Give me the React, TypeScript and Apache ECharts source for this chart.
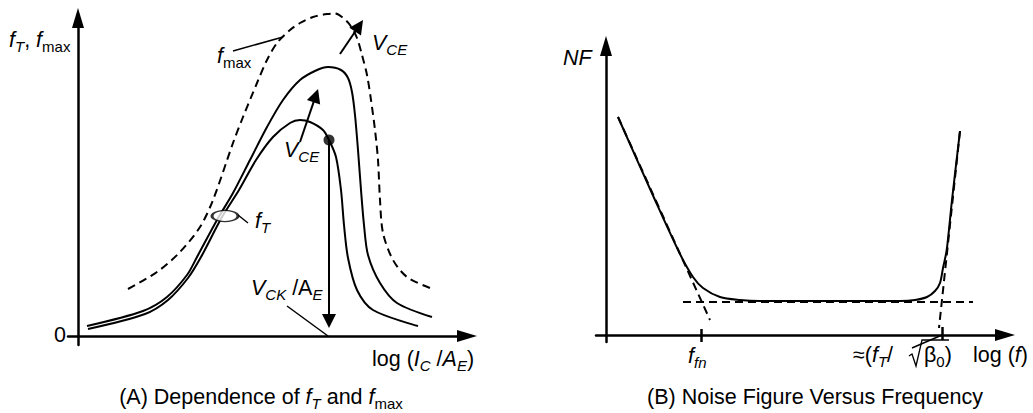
import { useEffect, useRef } from 'react';
import * as echarts from 'echarts';

type Pt = [number, number];

// ---------- Panel A: f_T and f_max vs log(I_C/A_E)  (arbitrary units) ----------
const fMaxCurve: Pt[] = [
  [5.0, 4.7], [7.9, 6.4], [10.2, 8.4], [12.2, 10.9], [13.5, 13.6], [15.5, 19.3], [16.5, 21.9],
  [17.9, 25.3], [18.9, 27.6], [19.9, 29.3], [21.2, 30.6], [22.2, 31.3], [23.5, 31.9], [24.9, 32.2],
  [25.7, 32.25], [26.4, 31.9], [27.2, 31.1], [27.9, 29.8], [28.4, 28.1], [28.9, 26.1], [29.3, 23.6],
  [29.7, 20.6], [30.0, 17.6], [30.2, 13.6], [30.5, 10.3], [31.5, 7.6], [32.9, 5.9], [35.2, 4.8],
];
const fTHighVce: Pt[] = [
  [0.9, 1.0], [6.5, 2.5], [8.9, 3.9], [10.9, 6.1], [11.9, 7.9], [13.9, 11.6], [15.5, 14.3],
  [17.2, 17.6], [18.9, 20.9], [20.5, 23.6], [22.2, 25.6], [23.9, 26.6], [25.0, 26.9], [26.3, 26.6],
  [27.0, 25.8], [27.4, 24.4], [27.7, 22.1], [28.0, 18.6], [28.3, 14.6], [28.6, 11.1], [29.0, 8.1],
  [30.2, 5.3], [31.9, 3.3], [35.4, 1.9],
];
const fTLowVce: Pt[] = [
  [1.0, 0.7], [6.7, 2.2], [9.0, 3.6], [11.0, 5.8], [12.3, 7.9], [14.4, 11.9], [16.1, 14.6],
  [17.8, 17.6], [19.5, 19.9], [21.2, 21.3], [22.2, 21.6], [23.2, 21.4], [24.5, 20.6], [25.1, 19.6],
  [25.8, 17.9], [26.3, 14.6], [26.6, 11.1], [27.0, 7.8], [27.9, 4.6], [29.5, 2.6], [34.0, 1.0],
];
const kirkPoint: Pt = [25.1, 19.6];
const fTGroupMark: Pt = [14.7, 12.0];
const panelAArrows: Pt[][] = [
  [[25.1, 19.6], [25.1, 1.5]],      // V_CK / A_E drop
  [[22.2, 19.4], [23.78, 24.04]],   // V_CE (f_T)
  [[26.2, 28.2], [28.11, 31.02]],   // V_CE (f_max)
];
const panelALeaders: Pt[][] = [
  [[15.5, 28.5], [20.5, 29.9]],     // f_max
  [[16.0, 12.1], [17.0, 11.3]],     // f_T
  [[20.9, 3.0], [25.0, 0]],         // V_CK/A_E
];

// ---------- Panel B: noise figure vs log(f) ----------
const nfCurve: Pt[] = [
  [1.2, 21.8], [4.9, 13.5], [7.4, 8.1], [8.7, 5.8], [9.7, 4.7], [11.4, 3.8], [13.4, 3.5], [15.4, 3.4],
  [29.4, 3.4], [30.9, 3.5], [32.1, 3.8], [32.9, 4.4], [33.4, 5.2], [33.7, 6.7], [34.07, 8.5],
  [34.6, 13.5], [35.4, 20.4],
];
const nfLowAsymptote: Pt[] = [[1.2, 21.8], [10.4, 1.5]];
const nfFloor: Pt[] = [[7.7, 3.3], [36.7, 3.3]];
const nfHighAsymptote: Pt[] = [[35.4, 20.4], [33.3, 0.7]];
const nfTicks: Pt[][] = [
  [[9.5, 0.6], [9.5, -0.7]],        // f_fn
  [[33.6, 0.8], [33.6, -0.5]],      // f_T / sqrt(beta0)
];
const panelBLeaders: Pt[][] = [[[30.6, -1.3], [33.6, 0]]];

const FONT = '"Liberation Sans", Arial, Helvetica, sans-serif';
const MAIN = 21.5;
const SUB = 15;
const LH = 28;
const rich: any = {
  n: { fontFamily: FONT, fontSize: MAIN, lineHeight: LH, color: '#000' },
  i: { fontFamily: FONT, fontSize: MAIN, fontStyle: 'italic', lineHeight: LH, color: '#000' },
  s: { fontFamily: FONT, fontSize: SUB, lineHeight: SUB, verticalAlign: 'bottom', color: '#000' },
  si: { fontFamily: FONT, fontSize: SUB, fontStyle: 'italic', lineHeight: SUB, verticalAlign: 'bottom', color: '#000' },
};

function label(x: number, baseline: number, text: string, align = 'left') {
  return {
    type: 'text',
    x,
    y: baseline - 21.3,
    silent: true,
    style: { text, rich, align, textAlign: align, verticalAlign: 'top', textVerticalAlign: 'top', fill: '#000', font: `${MAIN}px ${FONT}` },
  };
}

const black = '#000';

function axisPair(grid: number, xr: Pt, yr: Pt) {
  const line = (symbol: string[]) => ({
    show: true,
    onZero: true,
    symbol,
    symbolSize: [12, 20],
    lineStyle: { color: black, width: 2.5 },
  });
  const common = { axisTick: { show: false }, axisLabel: { show: false }, splitLine: { show: false } };
  return {
    x: { gridIndex: grid, type: 'value', min: xr[0], max: xr[1], axisLine: line(['none', 'triangle']), ...common },
    y: { gridIndex: grid, type: 'value', min: yr[0], max: yr[1], axisLine: line(['none', 'triangle']), ...common },
  };
}

function curve(data: Pt[], idx: number, dashed = false, smooth: number | boolean = 0.3) {
  return {
    type: 'line',
    xAxisIndex: idx,
    yAxisIndex: idx,
    data,
    smooth,
    symbol: 'none',
    clip: false,
    silent: true,
    lineStyle: { color: black, width: 2, type: dashed ? [8, 5] : 'solid' },
  };
}

function segs(list: Pt[][], idx: number, width: number, arrow: boolean, size: number[] = [9, 14]) {
  return {
    type: 'lines',
    coordinateSystem: 'cartesian2d',
    xAxisIndex: idx,
    yAxisIndex: idx,
    clip: false,
    silent: true,
    symbol: arrow ? ['none', 'triangle'] : ['none', 'none'],
    symbolSize: size,
    itemStyle: { color: black },
    lineStyle: { color: black, width, opacity: 1, curveness: 0 },
    data: list.map((c) => ({ coords: c })),
    z: 4,
  };
}

export default function App() {
  const ref = useRef<HTMLDivElement>(null);
  useEffect(() => {
    if (!ref.current) return;
    const chart = echarts.init(ref.current, undefined, { renderer: 'svg' });
    const a = axisPair(0, [-1, 38.9], [-0.9, 31.8]);
    const b = axisPair(1, [-1, 39.9], [-0.7, 28.9]);
    chart.setOption({
      animation: false,
      backgroundColor: '#fff',
      grid: [
        { left: 68, top: 18, width: 399, height: 327 },
        { left: 596, top: 46, width: 409, height: 296 },
      ],
      xAxis: [a.x, b.x],
      yAxis: [a.y, b.y],
      series: [
        curve(fMaxCurve, 0, true),
        curve(fTHighVce, 0),
        curve(fTLowVce, 0),
        {
          type: 'scatter', xAxisIndex: 0, yAxisIndex: 0, data: [kirkPoint], symbol: 'circle', symbolSize: 11,
          itemStyle: { color: black }, silent: true, z: 5,
        },
        {
          type: 'scatter', xAxisIndex: 0, yAxisIndex: 0, data: [fTGroupMark], symbol: 'circle', symbolSize: [26, 11],
          itemStyle: { color: '#fff', borderColor: black, borderWidth: 2 }, silent: true, z: 5,
        },
        segs(panelAArrows, 0, 2, true, [9, 14]),
        segs(panelALeaders, 0, 1.5, false),
        curve(nfCurve, 1),
        curve(nfLowAsymptote, 1, true, false),
        curve(nfFloor, 1, true, false),
        curve(nfHighAsymptote, 1, true, false),
        segs(nfTicks, 1, 2.5, false),
        segs(panelBLeaders, 1, 1.5, false),
      ],
      graphic: {
        elements: [
          label(9, 47, '{i|f}{si|T}{n|, }{i|f}{s|max}'),
          label(217, 63, '{i|f}{s|max}'),
          label(372, 50, '{i|V}{si|CE}'),
          label(284, 157, '{i|V}{si|CE}'),
          label(255, 228, '{i|f}{si|T}'),
          label(251, 295, '{i|V}{si|CK}{n| /A}{si|E}'),
          label(66, 342, '{n|0}', 'right'),
          label(372, 366, '{n|log (}{i|I}{si|C}{n| /}{i|A}{si|E}{n|)}'),
          label(261, 404, '{n|(A) Dependence of }{i|f}{si|T}{n| and }{i|f}{s|max}', 'center'),
          label(563, 65, '{i|NF}'),
          label(688, 363, '{i|f}{si|fn}'),
          label(853, 362, '{n|≈(}{i|f}{si|T}{n|/}'),
          label(924, 362, '{n|β}{s|0}{n|)}'),
          label(973, 362, '{n|log (}{i|f}{n|)}'),
          label(815, 404, '{n|(B) Noise Figure Versus Frequency}', 'center'),
          {
            type: 'polyline',
            silent: true,
            shape: { points: [[909, 356], [912, 354], [916, 366], [922, 340], [949, 340]] },
            style: { stroke: black, lineWidth: 1.3, fill: null },
          },
        ],
      },
    });
    return () => chart.dispose();
  }, []);
  return (
    <div
      ref={ref}
      style={{ position: 'fixed', left: 0, top: 0, width: 1033, height: 413, background: '#fff' }}
    />
  );
}
